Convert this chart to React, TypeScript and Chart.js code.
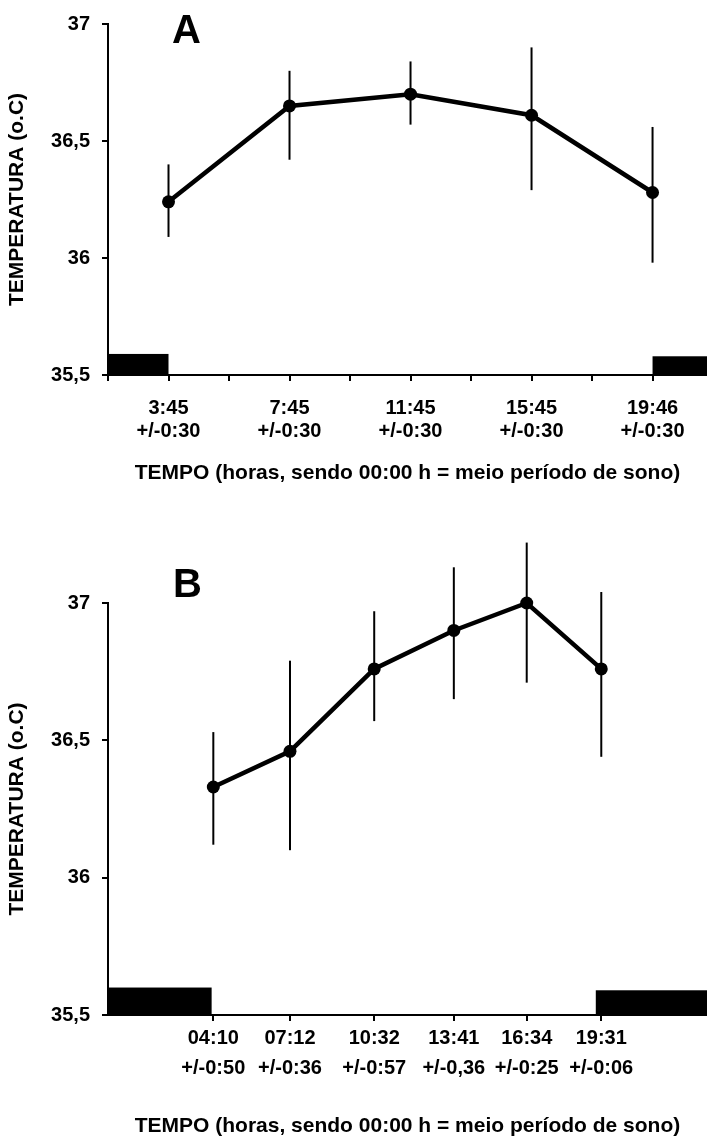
import React, { useEffect, useRef } from "react";
import { Chart, registerables } from "chart.js";

Chart.register(...registerables);

// ---------- shared y axis ----------
const yTickValues = [35.5, 36, 36.5, 37];
const yTickLabels = ["35,5", "36", "36,5", "37"];

// ---------- panel A ----------
const catsA = [1, 2, 3, 4, 5];
const tickValsA = [0.5, 1, 1.5, 2, 2.5, 3, 3.5, 4, 4.5, 5];
const labelsA = [
  ["3:45", "+/-0:30"],
  ["7:45", "+/-0:30"],
  ["11:45", "+/-0:30"],
  ["15:45", "+/-0:30"],
  ["19:46", "+/-0:30"],
];
const meanA = [36.24, 36.65, 36.7, 36.61, 36.28];
const upperA = [36.4, 36.8, 36.84, 36.9, 36.56];
const lowerA = [36.09, 36.42, 36.57, 36.29, 35.98];
const sleepStartA = [0.5, 5];
const sleepEndA = [1, 5.45];
const sleepTopA = [35.59, 35.58];

// ---------- panel B ----------
const hoursB = [4.167, 7.2, 10.533, 13.683, 16.567, 19.517];
const labelsB = [
  ["04:10", "+/-0:50"],
  ["07:12", "+/-0:36"],
  ["10:32", "+/-0:57"],
  ["13:41", "+/-0,36"],
  ["16:34", "+/-0:25"],
  ["19:31", "+/-0:06"],
];
const meanB = [36.33, 36.46, 36.76, 36.9, 37.0, 36.76];
const upperB = [36.53, 36.79, 36.97, 37.13, 37.22, 37.04];
const lowerB = [36.12, 36.1, 36.57, 36.65, 36.71, 36.44];
const sleepStartB = [0, 19.3];
const sleepEndB = [4.1, 23.7];
const sleepTopB = [35.6, 35.59];

const X_TITLE = "TEMPO (horas, sendo 00:00 h = meio período de sono)";
const Y_TITLE = "TEMPERATURA (o.C)";
const FONT = '"Liberation Sans", Arial, Helvetica, sans-serif';

const overlayPlugin = {
  id: "overlay",
  beforeDatasetsDraw(chart: any, _args: any, opts: any) {
    const { ctx } = chart;
    const x = chart.scales.x;
    const y = chart.scales.y;
    ctx.save();
    ctx.fillStyle = "#000";
    opts.sleepStart.forEach((s: number, i: number) => {
      const x0 = x.getPixelForValue(s);
      const x1 = x.getPixelForValue(opts.sleepEnd[i]);
      const y0 = y.getPixelForValue(y.min);
      const y1 = y.getPixelForValue(opts.sleepTop[i]);
      ctx.fillRect(x0, y1, x1 - x0, y0 - y1);
    });
    ctx.strokeStyle = "#000";
    ctx.lineWidth = 2;
    opts.xs.forEach((xv: number, i: number) => {
      const px = x.getPixelForValue(xv);
      ctx.beginPath();
      ctx.moveTo(px, y.getPixelForValue(opts.upper[i]));
      ctx.lineTo(px, y.getPixelForValue(opts.lower[i]));
      ctx.stroke();
    });
    ctx.font = `bold 40px ${FONT}`;
    ctx.textAlign = "left";
    ctx.textBaseline = "alphabetic";
    ctx.fillText(opts.letter, opts.letterX, opts.letterY);
    ctx.restore();
  },
};

type PanelProps = {
  height: number;
  top: number;
  padTop: number;
  xHeight: number;
  xMin: number;
  xMax: number;
  tickVals: number[];
  labelVals: number[];
  labels: string[][];
  xs: number[];
  mean: number[];
  upper: number[];
  lower: number[];
  sleepStart: number[];
  sleepEnd: number[];
  sleepTop: number[];
  tickPadding: number;
  tickLineHeight: number;
  titlePadBottom: number;
  letter: string;
  letterX: number;
  letterY: number;
};

function Panel(p: PanelProps) {
  const ref = useRef<HTMLCanvasElement | null>(null);
  useEffect(() => {
    if (!ref.current) return;
    const axisGrid = {
      display: true,
      drawOnChartArea: false,
      drawTicks: true,
      tickLength: 6,
      color: "#000",
      lineWidth: 2,
    };
    const chart = new Chart(ref.current, {
      type: "line",
      data: {
        datasets: [
          {
            data: p.mean.map((v, i) => ({ x: p.xs[i], y: v })),
            borderColor: "#000",
            backgroundColor: "#000",
            borderWidth: 4.5,
            pointRadius: 6.5,
            pointBackgroundColor: "#000",
            pointBorderWidth: 0,
            tension: 0,
            clip: false as any,
          },
        ],
      },
      options: {
        responsive: false,
        animation: false,
        layout: { autoPadding: false, padding: { top: p.padTop, left: 0, right: 0, bottom: 0 } },
        plugins: {
          legend: { display: false },
          tooltip: { enabled: false },
          overlay: {
            xs: p.xs,
            upper: p.upper,
            lower: p.lower,
            sleepStart: p.sleepStart,
            sleepEnd: p.sleepEnd,
            sleepTop: p.sleepTop,
            letter: p.letter,
            letterX: p.letterX,
            letterY: p.letterY,
          },
        } as any,
        scales: {
          x: {
            type: "linear",
            min: p.xMin,
            max: p.xMax,
            afterBuildTicks: (s: any) => {
              s.ticks = p.tickVals.map((v) => ({ value: v }));
            },
            afterFit: (s: any) => {
              s.height = p.xHeight;
            },
            ticks: {
              autoSkip: false,
              maxRotation: 0,
              minRotation: 0,
              color: "#000",
              padding: p.tickPadding,
              font: { family: FONT, size: 20, weight: "bold", lineHeight: p.tickLineHeight },
              callback: (v: any) => {
                const i = p.labelVals.indexOf(v);
                return i >= 0 ? p.labels[i] : "";
              },
            },
            grid: axisGrid as any,
            border: { display: true, color: "#000", width: 2 },
            title: {
              display: true,
              text: X_TITLE,
              color: "#000",
              font: { family: FONT, size: 21, weight: "bold", lineHeight: 1.2 },
              padding: { top: 4, bottom: p.titlePadBottom },
            },
          },
          y: {
            type: "linear",
            min: 35.5,
            max: 37,
            afterBuildTicks: (s: any) => {
              s.ticks = yTickValues.map((v) => ({ value: v }));
            },
            afterFit: (s: any) => {
              s.width = 108;
            },
            ticks: {
              color: "#000",
              padding: 12,
              font: { family: FONT, size: 20, weight: "bold" },
              callback: (v: any) => {
                const i = yTickValues.indexOf(v);
                return i >= 0 ? yTickLabels[i] : "";
              },
            },
            grid: axisGrid as any,
            border: { display: true, color: "#000", width: 2 },
            title: {
              display: true,
              text: Y_TITLE,
              color: "#000",
              font: { family: FONT, size: 21, weight: "bold", lineHeight: 1.2 },
              padding: { top: 5, bottom: 0 },
            },
          },
        },
      } as any,
      plugins: [overlayPlugin as any],
    });
    return () => chart.destroy();
  }, []);
  return (
    <canvas
      ref={ref}
      width={707}
      height={p.height}
      style={{ position: "absolute", left: 0, top: p.top, display: "block" }}
    />
  );
}

export default function App() {
  return (
    <div
      style={{
        position: "absolute",
        left: 0,
        top: 0,
        width: 707,
        height: 1143,
        background: "#fff",
        overflow: "hidden",
      }}
    >
      <Panel
        height={500}
        top={0}
        padTop={20}
        xHeight={125}
        xMin={0.5}
        xMax={5.45}
        tickVals={tickValsA}
        labelVals={catsA}
        labels={labelsA}
        xs={catsA}
        mean={meanA}
        upper={upperA}
        lower={lowerA}
        sleepStart={sleepStartA}
        sleepEnd={sleepEndA}
        sleepTop={sleepTopA}
        tickPadding={16}
        tickLineHeight={1.15}
        titlePadBottom={14}
        letter="A"
        letterX={172}
        letterY={43}
      />
      <Panel
        height={643}
        top={500}
        padTop={103}
        xHeight={128}
        xMin={0}
        xMax={23.7}
        tickVals={hoursB}
        labelVals={hoursB}
        labels={labelsB}
        xs={hoursB}
        mean={meanB}
        upper={upperB}
        lower={lowerB}
        sleepStart={sleepStartB}
        sleepEnd={sleepEndB}
        sleepTop={sleepTopB}
        tickPadding={2}
        tickLineHeight={1.5}
        titlePadBottom={4}
        letter="B"
        letterX={173}
        letterY={97}
      />
    </div>
  );
}
